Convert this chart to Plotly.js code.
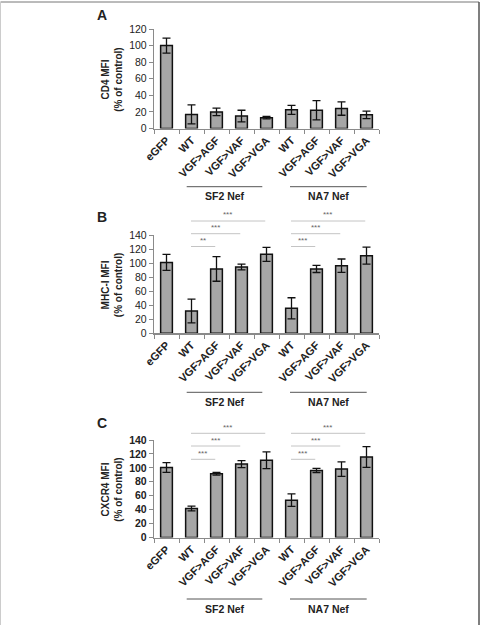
<!DOCTYPE html>
<html><head><meta charset="utf-8">
<script src="https://cdn.plot.ly/plotly-3.0.1.min.js"></script>
<style>html,body{margin:0;padding:0;background:#fff}#chart{width:482px;height:625px}</style>
</head><body><div id="chart"></div>
<script>
// ---- data ----
const categories = ['eGFP','WT','VGF>AGF','VGF>VAF','VGF>VGA','WT','VGF>AGF','VGF>VAF','VGF>VGA'];
const groupLabels = ['SF2 Nef','NA7 Nef'];
const cd4Values = [100,17,20,15,13,22.5,22,24,16.5];
const cd4Errors = [9,11.5,4.5,7,1.5,5.5,11.5,8,4.5];
const mhcValues = [101,31.8,91.6,94.4,112.5,35.6,91.6,96.3,110.6];
const mhcErrors = [11.5,17,17.5,4,10,15,5,9.5,12];
const cxcr4Values = [100.6,41.6,91.5,105.4,111,53.6,96.3,98.2,115.6];
const cxcr4Errors = [7,3.5,2,5,12,9,3,10.5,15];
const sigB = ['***','***','**','***','***','***'];
const sigC = ['***','***','***','***','***','***'];
const sigFrom = [1,1,1,5,5,5];
const sigTo = [4,3,2,8,7,6];
const yTitles = ['CD4 MFI<br>(% of control)','MHC-I MFI<br>(% of control)','CXCR4 MFI<br>(% of control)'];
const panelLetters = ['A','B','C'];
const yMax = [120,140,140];

// ---- layout helpers (pixel -> paper) ----
const W = 482, H = 625;
const px = x => x / W;
const py = y => 1 - y / H;
const FONT = 'Arial, "Liberation Sans", sans-serif';
const xs = categories.map((c, i) => i);

// pixel geometry for each panel: [zeroY, topY]
const panels = [[128.5, 29], [333.3, 235], [537.5, 440]];
const xLeft = 154, xRight = 379;
const valuesList = [cd4Values, mhcValues, cxcr4Values];
const errorsList = [cd4Errors, mhcErrors, cxcr4Errors];

const data = valuesList.map((vals, k) => ({
  type: 'bar', x: xs, y: vals,
  xaxis: k === 0 ? 'x' : 'x' + (k + 1),
  yaxis: k === 0 ? 'y' : 'y' + (k + 1),
  width: 0.47,
  marker: {color: '#a6a6a6', line: {color: '#111', width: 1.5}},
  error_y: {type: 'data', array: errorsList[k], visible: true, color: '#111', thickness: 1.3, width: 4},
  hoverinfo: 'skip', showlegend: false
}));

const layout = {
  width: W, height: H,
  margin: {l: 0, r: 0, t: 0, b: 0},
  paper_bgcolor: '#fff', plot_bgcolor: 'rgba(0,0,0,0)',
  font: {family: FONT, color: '#222'},
  showlegend: false,
  shapes: [], annotations: []
};

panels.forEach((p, k) => {
  const sx = k === 0 ? '' : String(k + 1);
  layout['xaxis' + sx] = {
    domain: [px(xLeft), px(xRight)],
    anchor: 'y' + sx,
    range: [-0.5, 8.5], fixedrange: true,
    tickmode: 'array', tickvals: xs, ticktext: categories,
    tickangle: -45, ticks: '',
    tickfont: {size: 11, family: FONT, weight: 'bold', color: '#222'},
    showline: true, linecolor: '#8a8a8a', linewidth: 1.2,
    showgrid: false, zeroline: false,
    minor: {tickmode: 'linear', tick0: -0.5, dtick: 1, ticks: 'outside', ticklen: 4, tickcolor: '#8a8a8a', tickwidth: 1, showgrid: false}
  };
  layout['yaxis' + sx] = {
    domain: [py(p[0]), py(p[1])],
    anchor: 'x' + sx,
    range: [0, yMax[k]], dtick: 20, fixedrange: true,
    ticks: 'outside', ticklen: 4, tickcolor: '#8a8a8a',
    tickfont: {size: 10.5, family: FONT, color: '#222', weight: k === 2 ? 'bold' : 'normal'},
    showline: true, linecolor: '#8a8a8a', linewidth: 1.2,
    showgrid: false, zeroline: false
  };
  // y title
  layout.annotations.push({
    xref: 'paper', yref: 'paper', x: px(112), y: py((p[0] + p[1]) / 2 + 1),
    text: yTitles[k], textangle: -90, showarrow: false,
    xanchor: 'center', yanchor: 'middle',
    font: {size: 10, family: FONT, weight: 'bold', color: '#222'}
  });
  // panel letter
  const letterY = [15, 217, 423][k];
  layout.annotations.push({
    xref: 'paper', yref: 'paper', x: px(102), y: py(letterY),
    text: panelLetters[k], showarrow: false, xanchor: 'center', yanchor: 'middle',
    font: {size: 14, family: FONT, weight: 'bold', color: '#222'}
  });
  // group lines and labels
  const gl = p[0] + [58.2, 59, 61.5][k];
  const groupSpans = [[186.7, 262.3], [290, 366.7]];
  groupSpans.forEach((s, g) => {
    layout.shapes.push({type: 'line', xref: 'paper', yref: 'paper',
      x0: px(s[0]), x1: px(s[1]), y0: py(gl), y1: py(gl),
      line: {color: '#555', width: 1}});
    layout.annotations.push({xref: 'paper', yref: 'paper',
      x: px((s[0] + s[1]) / 2), y: py(gl + 9.5), text: groupLabels[g], showarrow: false,
      xanchor: 'center', yanchor: 'middle',
      font: {size: 10.5, family: FONT, weight: 'bold', color: '#222'}});
  });
});

// significance brackets for B and C
const sigLineY = [[221, 233.7, 246.5], [433.3, 446, 459.3]];
[sigB, sigC].forEach((labels, j) => {
  const ax = j === 0 ? 'x2' : 'x3';
  labels.forEach((lab, i) => {
    const yLine = sigLineY[j][i % 3];
    const a = sigFrom[i], b = sigTo[i];
    layout.shapes.push({type: 'line', xref: ax, yref: 'paper',
      x0: a - 0.02, x1: b - 0.05, y0: py(yLine), y1: py(yLine),
      line: {color: '#c4c4c4', width: 1}});
    layout.annotations.push({xref: ax, yref: 'paper',
      x: (a + b) / 2 - 0.05, y: py(yLine - 6), text: lab, showarrow: false,
      xanchor: 'center', yanchor: 'middle',
      font: {size: 8, family: FONT, color: '#666'}});
  });
});

// outer frame
layout.shapes.push({type: 'line', xref: 'paper', yref: 'paper', x0: px(0.5), x1: px(479), y0: py(2), y1: py(2), line: {color: '#777', width: 1}});
layout.shapes.push({type: 'line', xref: 'paper', yref: 'paper', x0: px(479), x1: px(479), y0: py(2), y1: py(625), line: {color: '#555', width: 1.5}});
layout.shapes.push({type: 'line', xref: 'paper', yref: 'paper', x0: px(0.5), x1: px(0.5), y0: py(2), y1: py(625), line: {color: '#ccc', width: 1}});

Plotly.newPlot('chart', data, layout, {displayModeBar: false, staticPlot: true});
</script></body></html>
